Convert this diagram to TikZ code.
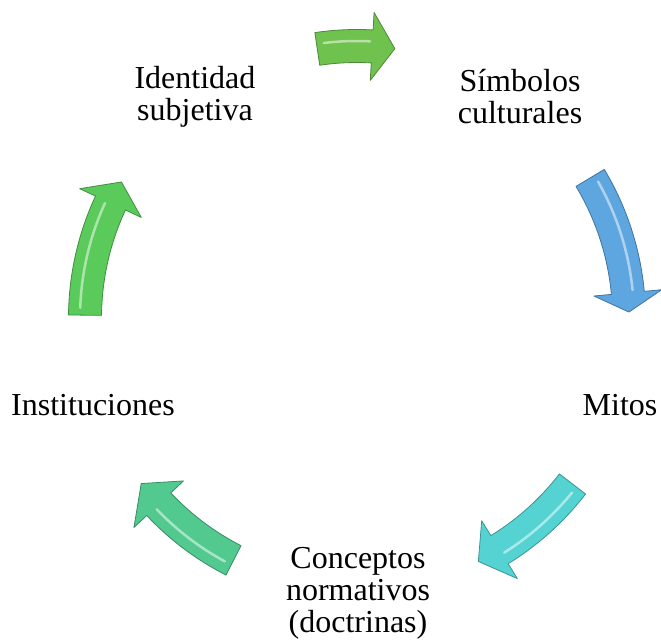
\documentclass[tikz,border=0pt]{standalone}
\usepackage{fontspec}
\setmainfont{Liberation Serif}
\usetikzlibrary{positioning}

\definecolor{topgreen}{RGB}{112,194,79}
\definecolor{symblue}{RGB}{94,166,224}
\definecolor{mitcyan}{RGB}{85,211,211}
\definecolor{concteal}{RGB}{82,201,143}
\definecolor{instgreen}{RGB}{90,203,90}

% curved block arrow round the hub: colour, tail angle, head base angle, tip angle
\newcommand{\cyclearrow}[4]{%
  \begin{scope}[shift={(hub)}]
    \path[arrowbody=#1]
      (#2:288.5) arc[start angle=#2, end angle=#3, radius=288.5pt]
      -- (#3:306) -- (#4:272) -- (#3:238) -- (#3:255.5)
      arc[start angle=#3, end angle=#2, radius=255.5pt] -- cycle;
    \draw[arrowshine] ({#2-1.5}:277) arc[start angle=#2-1.5, end angle=#3+0.5, radius=277pt];
  \end{scope}}

\begin{document}
\begin{tikzpicture}[
    x=1pt, y=1pt,
    label/.style={font=\fontsize{32}{32}\selectfont, align=center, inner sep=0pt},
    arrowbody/.style={fill=#1, draw=#1!70!black, line width=0.8pt, line join=round},
    arrowshine/.style={white, opacity=0.5, line width=2.5pt, line cap=round},
]
    \useasboundingbox (0,0) rectangle (661,643);
    \coordinate (hub) at (357,325);

    \node[label]              (ident) at (195,546) {Identidad\\subjetiva};
    \node[label]              (simb)  at (520,546) {Símbolos\\culturales};
    \node[label, anchor=base] (mitos) at (620,227) {Mitos};
    \node[label]              (conc)  at (358,49.5) {Conceptos\\normativos\\(doctrinas)};
    \node[label, anchor=base] (inst)  at (93,227)  {Instituciones};

    \cyclearrow{topgreen}{98.4}{86.8}{82}
    \cyclearrow{symblue}{31}{5.3}{1.25}
    \cyclearrow{mitcyan}{-37.6}{-58.4}{-63.5}
    \cyclearrow{concteal}{-117}{-136.8}{-142.5}
    \cyclearrow{instgreen}{179.4}{155}{150}
\end{tikzpicture}
\end{document}
